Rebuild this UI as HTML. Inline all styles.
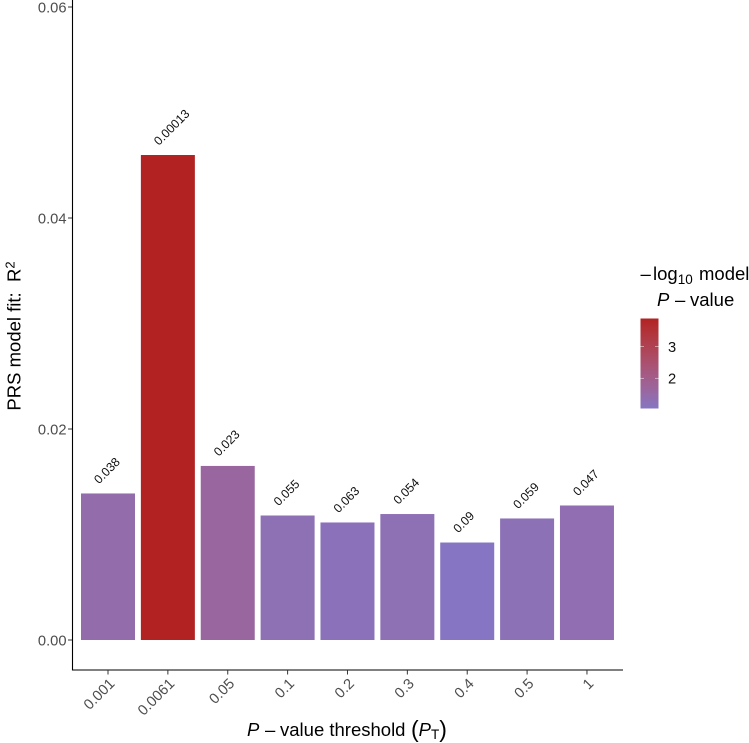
<!DOCTYPE html>
<html>
<head>
<meta charset="utf-8">
<style>
html,body{margin:0;padding:0;background:#fff;width:749px;height:743px;overflow:hidden}
svg{display:block;font-family:"Liberation Sans",sans-serif}
</style>
</head>
<body>
<svg id="chart" width="749" height="743" viewBox="0 0 749 743" xmlns="http://www.w3.org/2000/svg">
  <defs>
    <linearGradient id="legend-gradient" x1="0" y1="1" x2="0" y2="0"></linearGradient>
  </defs>
  <g id="bars"></g>
  <g id="value-labels"></g>
  <line x1="72.5" y1="0" x2="72.5" y2="670.5" stroke="#000" stroke-width="1.1"/>
  <line x1="72" y1="670" x2="623" y2="670" stroke="#000" stroke-width="1.1"/>
  <g id="y-ticks"></g>
  <g id="x-ticks"></g>
  <text transform="translate(20.5,336) rotate(-90)" text-anchor="middle" font-size="18.5" fill="#000">PRS model fit:&#160;&#160;R<tspan dy="-6" font-size="13">2</tspan></text>
  <text x="247" y="736" font-size="18.5" fill="#000"><tspan font-style="italic">P</tspan><tspan x="265">–</tspan><tspan x="280">value threshold</tspan><tspan x="411" font-size="23" dy="1">(</tspan><tspan font-style="italic" dy="-1">P</tspan><tspan font-size="13.5" dy="3">T</tspan><tspan font-size="23" dy="-2">)</tspan></text>
  <g id="legend">
    <text x="640.5" y="280" font-size="18.5" fill="#000">–<tspan x="653">log</tspan><tspan font-size="13.5" dy="4">10</tspan><tspan x="699" dy="-4">model</tspan></text>
    <text x="657" y="306" font-size="18.5" fill="#000"><tspan font-style="italic">P</tspan><tspan x="675">–</tspan><tspan x="690">value</tspan></text>
    <rect x="640.5" y="318.5" width="18" height="90" fill="url(#legend-gradient)"/>
    <g id="legend-ticks"></g>
  </g>
</svg>
<script>
var categories = ["0.001","0.0061","0.05","0.1","0.2","0.3","0.4","0.5","1"];
var r2Values = [0.01389,0.04597,0.0165,0.0118,0.01114,0.01194,0.00924,0.01152,0.01275];
var pValueLabels = ["0.038","0.00013","0.023","0.055","0.063","0.054","0.09","0.059","0.047"];
var yTickValues = [0,0.02,0.04,0.06];
var yTickLabels = ["0.00","0.02","0.04","0.06"];
var legendTickValues = [2,3];
var legendTickLabels = ["2","3"];

var NS = "http://www.w3.org/2000/svg";
function mk(tag, attrs, parent, text) {
  var el = document.createElementNS(NS, tag);
  for (var k in attrs) el.setAttribute(k, attrs[k]);
  if (text !== undefined) el.textContent = text;
  parent.appendChild(el);
  return el;
}
function yScale(v) { return 640 - v * 10550; }
function xScale(i) { return 108 + i * 59.87; }
var BAR_W = 54;

var logs = pValueLabels.map(function (p) { return -Math.log10(parseFloat(p)); });
var logMin = Math.min.apply(null, logs);
var logMax = Math.max.apply(null, logs);
function legendScale(v) { return 408.5 - (v - logMin) / (logMax - logMin) * 90; }

function toLab(c) {
  var l = c.map(function (v) { v /= 255; return v > 0.04045 ? Math.pow((v + 0.055) / 1.055, 2.4) : v / 12.92; });
  var x = (0.4124 * l[0] + 0.3576 * l[1] + 0.1805 * l[2]) / 0.95047;
  var y = 0.2126 * l[0] + 0.7152 * l[1] + 0.0722 * l[2];
  var z = (0.0193 * l[0] + 0.1192 * l[1] + 0.9505 * l[2]) / 1.08883;
  var f = function (t) { return t > 0.008856 ? Math.cbrt(t) : 7.787 * t + 16 / 116; };
  return [116 * f(y) - 16, 500 * (f(x) - f(y)), 200 * (f(y) - f(z))];
}
function fromLab(L) {
  var fy = (L[0] + 16) / 116, fx = fy + L[1] / 500, fz = fy - L[2] / 200;
  var g = function (t) { return t > 0.2069 ? t * t * t : (t - 16 / 116) / 7.787; };
  var x = g(fx) * 0.95047, y = g(fy), z = g(fz) * 1.08883;
  var r = [3.2406 * x - 1.5372 * y - 0.4986 * z, -0.9689 * x + 1.8758 * y + 0.0415 * z, 0.0557 * x - 0.204 * y + 1.057 * z];
  return "rgb(" + r.map(function (v) {
    v = v > 0.0031308 ? 1.055 * Math.pow(v, 1 / 2.4) - 0.055 : 12.92 * v;
    return Math.round(Math.max(0, Math.min(1, v)) * 255);
  }).join(",") + ")";
}
var lowLab = toLab([133, 117, 194]);
var highLab = toLab([178, 34, 34]);
function colorScale(v) {
  var t = (v - logMin) / (logMax - logMin);
  return fromLab([0, 1, 2].map(function (i) { return lowLab[i] + (highLab[i] - lowLab[i]) * t; }));
}

var barsG = document.getElementById("bars");
var valG = document.getElementById("value-labels");
var xG = document.getElementById("x-ticks");
categories.forEach(function (c, i) {
  var cx = xScale(i), top = yScale(r2Values[i]);
  var bar = mk("rect", {x: cx - BAR_W / 2, y: top, width: BAR_W, height: yScale(0) - top, fill: colorScale(logs[i])}, barsG);
  
  
  var lx = cx - 9, ly = top - 9;
  var lab = mk("text", {x: lx, y: ly, transform: "rotate(-45 " + lx + " " + ly + ")", "font-size": 12.3, fill: "#111"}, valG, pValueLabels[i]);
  
  
  var tick = mk("line", {x1: cx, x2: cx, y1: 670, y2: 674.5, stroke: "#333", "stroke-width": 1}, xG);
  
  
  var tx = cx + 7.5, ty = 684.5;
  var tl = mk("text", {x: tx, y: ty, transform: "rotate(-45 " + tx + " " + ty + ")", "text-anchor": "end", "font-size": 14.7, fill: "#4d4d4d"}, xG, c);
  
  
});

var yG = document.getElementById("y-ticks");
yTickValues.forEach(function (v, i) {
  var y = yScale(v);
  var tick = mk("line", {x1: 68, x2: 72, y1: y, y2: y, stroke: "#333", "stroke-width": 1}, yG);
  
  
  var tl = mk("text", {x: 66.5, y: y + 5.3, "text-anchor": "end", "font-size": 14.7, fill: "#4d4d4d"}, yG, yTickLabels[i]);
  
  
});

var grad = document.getElementById("legend-gradient");
for (var s = 0; s <= 20; s++) {
  mk("stop", {offset: (s * 5) + "%", "stop-color": colorScale(logMin + (logMax - logMin) * s / 20)}, grad);
}
var legG = document.getElementById("legend-ticks");
legendTickValues.forEach(function (v, i) {
  var y = legendScale(v);
  var a = mk("line", {x1: 640.5, x2: 644, y1: y, y2: y, stroke: "#fff", "stroke-width": 0.6, "stroke-opacity": 0.8}, legG);
  
  
  var b = mk("line", {x1: 655, x2: 658.5, y1: y, y2: y, stroke: "#fff", "stroke-width": 0.6, "stroke-opacity": 0.8}, legG);
  
  
  var t = mk("text", {x: 668, y: y + 5.3, "font-size": 14.7, fill: "#111"}, legG, legendTickLabels[i]);
  
  
});
</script>
</body>
</html>
